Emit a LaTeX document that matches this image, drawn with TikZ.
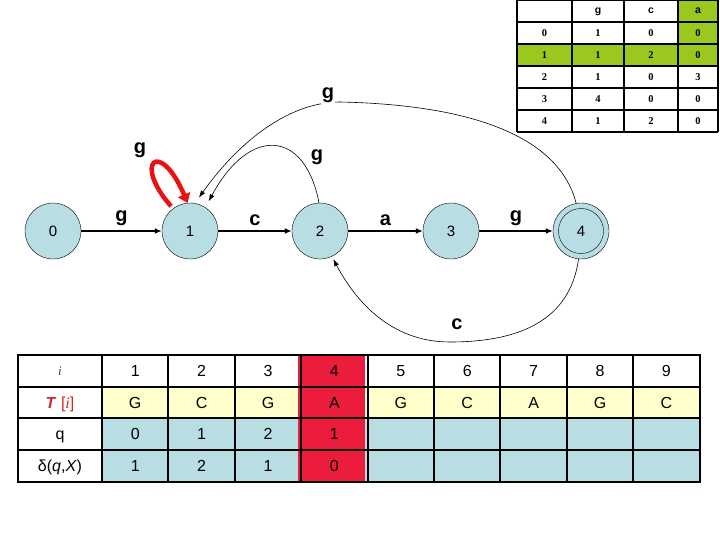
\documentclass[tikz,border=0pt]{standalone}
\usepackage{fontspec}
\setmainfont{Liberation Sans}
\newfontfamily\seriffont{Liberation Serif}
\usetikzlibrary{arrows.meta}
\definecolor{nodeblue}{HTML}{B8DDE2}
\definecolor{cellblue}{HTML}{B8DDE2}
\definecolor{cellyellow}{HTML}{FFFFCC}
\definecolor{cellred}{HTML}{EC1C3C}
\definecolor{cellgreen}{HTML}{9BC81E}
\definecolor{labelred}{HTML}{D02828}
\tikzset{
  state/.style={circle, draw, fill=nodeblue, minimum size=56pt, inner sep=0pt, font=\fontsize{15}{15}\selectfont},
  inner4/.style={circle, draw, minimum size=45pt, inner sep=0pt, font=\fontsize{15}{15}\selectfont},
  trans/.style={line width=1.4pt, -{Latex[length=7pt,width=6pt]}},
  arc/.style={line width=0.6pt, -{Latex[length=7pt,width=5pt]}, shorten >=3pt},
  elabel/.style={font=\fontsize{20}{20}\selectfont\bfseries, inner sep=1pt},
  ttext/.style={font=\seriffont\bfseries\fontsize{10.5}{10.5}\selectfont, inner sep=0pt, text height=7pt, text depth=0pt},
  thead/.style={font=\bfseries\fontsize{10.5}{10.5}\selectfont, inner sep=0pt, text height=6pt, text depth=0pt},
  btext/.style={font=\fontsize{16}{16}\selectfont, inner sep=0pt, text height=11.5pt, text depth=0pt},
  tline/.style={line width=2pt},
}
\begin{document}
\begin{tikzpicture}[x=1pt,y=-1pt]
\useasboundingbox (0,0) rectangle (720,540);

% ---------- top-right transition table ----------
\fill[cellgreen] (678,0) rectangle (718,44);
\fill[cellgreen] (517,44) rectangle (718,66);
\foreach \yy in {0,22,44,66,88,110,132} \draw[tline] (517,\yy) -- (718,\yy);
\foreach \xx in {517,572,624,678,718} \draw[tline] (\xx,0) -- (\xx,132);
\node[thead] (h1) at (598,11) {g};
\node[thead] (h2) at (651,11) {c};
\node[thead] (h3) at (698,11) {a};
\foreach \r/\a/\b/\c [count=\k from 0] in {0/1/0/0,1/1/2/0,2/1/0/3,3/4/0/0,4/1/2/0}{
  \node[ttext] (r\k c0) at (544.5,{33+22*\k}) {\r};
  \node[ttext] (r\k c1) at (598,{33+22*\k}) {\a};
  \node[ttext] (r\k c2) at (651,{33+22*\k}) {\b};
  \node[ttext] (r\k c3) at (698,{33+22*\k}) {\c};
}

% ---------- automaton ----------
\node[state] (q0) at (53,231) {0};
\node[state] (q1) at (190,231) {1};
\node[state] (q2) at (320,231) {2};
\node[state] (q3) at (451,231) {3};
\node[state] (q4) at (581,231) {};
\node[inner4] (q4in) at (q4) {4};

\draw[trans] (q0) -- node[elabel, above=4pt] (l01) {g} (q1);
\draw[trans] (q1) -- node[elabel, above=4pt] (l12) {c} (q2);
\draw[trans] (q2) -- node[elabel, above=4pt] (l23) {a} (q3);
\draw[trans] (q3) -- node[elabel, above=4pt] (l34) {g} (q4);

% red self loop on 1
\draw[labelred!40!red, line width=4.5pt, shorten <=3pt, -{Triangle[length=9pt,width=13pt]}]
  (q1.127) .. controls (132,162) and (160,138) .. (q1.95);
\node[elabel] (l11) at (140,150) {g};

% 2 -> 1
\draw[arc, shorten >=7pt] (q2.92) .. controls (305,130) and (250,125) .. (q1.57);
\node[elabel] (l21) at (317,157) {g};

% 4 -> 1 (big arc)
\draw[arc, shorten >=7pt] (q4.100) .. controls (560,140) and (480,105) .. (340,102)
   .. controls (290,102) and (240,140) .. (q1.80);
\node[elabel, fill=white] (l41) at (328,95) {g};

% 4 -> 2 (bottom arc)
\draw[arc] (q4.265) .. controls (570,320) and (520,342) .. (450,342)
   .. controls (390,342) and (355,300) .. (q2.-65);
\node[elabel] (l42) at (457,324) {c};

% ---------- bottom table ----------
\fill[cellyellow] (102,387) rectangle (700,418);
\fill[cellblue] (102,418) rectangle (700,482);
\fill[cellred] (298.4,355) rectangle (364.8,482);
\foreach \yy in {387,418,450} \draw[tline] (18,\yy) -- (700,\yy);
\foreach \k in {1,...,9} \draw[tline] ({102+66.4*(\k-1)},355) -- ({102+66.4*(\k-1)},482);
\draw[line width=2.6pt] (18,355) rectangle (700,482);

\node[font=\seriffont\itshape\fontsize{13}{13}\selectfont, text=black!75, inner sep=0pt, text height=8pt, text depth=0pt] (ci) at (60,371) {i};
\node[btext, text=labelred] (cT) at (60,402.5) {\textbf{\textit{T}} [{\seriffont\itshape i}]};
\node[btext] (cq) at (60,434) {q};
\node[btext] (cd) at (60,466) {δ(\textit{q},\textit{X})};

\foreach \n/\t [count=\k from 1] in {1/G,2/C,3/G,4/A,5/G,6/C,7/A,8/G,9/C}{
  \node[btext] (i\k) at ({102+66.4*(\k-0.5)},371) {\n};
  \node[btext] (t\k) at ({102+66.4*(\k-0.5)},402.5) {\t};
}
\foreach \a/\b [count=\k from 1] in {0/1,1/2,2/1,1/0}{
  \node[btext] (s\k) at ({102+66.4*(\k-0.5)},434) {\a};
  \node[btext] (d\k) at ({102+66.4*(\k-0.5)},466) {\b};
}
\end{tikzpicture}
\end{document}
